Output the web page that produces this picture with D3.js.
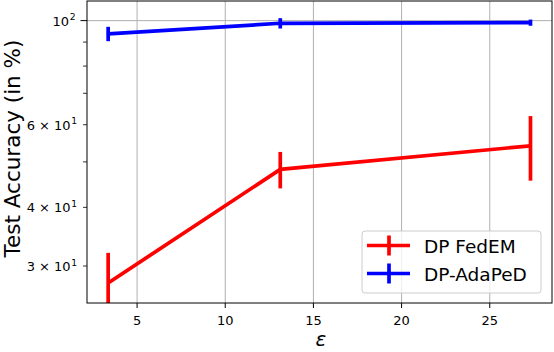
<!DOCTYPE html>
<html>
<head>
<meta charset="utf-8">
<script src="https://cdnjs.cloudflare.com/ajax/libs/d3/7.8.5/d3.min.js"></script>
<style>
  body { margin: 0; background: #fff; }
  text { font-family: "DejaVu Sans", sans-serif; }
</style>
</head>
<body>
<div id="container"></div>
<script>
// data
var epsilons = [3.36, 13.12, 27.31];
var fedemMean = [27.6, 48.2, 54.1];
var fedemErr = [4.4, 4.3, 8.5];
var adapedMean = [93.7, 98.7, 99.0];
var adapedErr = [3.3, 2.5, 1.5];
var seriesNames = ['DP FedEM', 'DP-AdaPeD'];
var seriesColors = ['#ff0000', '#0000ff'];
var xTicks = [5, 10, 15, 20, 25];
var yMajor = [30, 40, 60, 100];
var yMajorLabels = [['3 \u00d7 10', '1'], ['4 \u00d7 10', '1'], ['6 \u00d7 10', '1'], ['10', '2']];
var yMinor = [30, 40, 50, 60, 70, 80, 90];

var w = 554, h = 352;
var margin = {top: 1, right: 2, bottom: 49, left: 87};

var svg = d3.select('#container')
    .append('svg')
    .attr('width', w)
    .attr('height', h);

var x = d3.scaleLinear().domain([2.16, 28.53]).range([margin.left, w - margin.right]);
var y = d3.scaleLog().domain([25.02, 110.1]).range([h - margin.bottom, margin.top]);

svg.append('clipPath').attr('id', 'plotclip')
   .append('rect')
   .attr('x', margin.left).attr('y', margin.top)
   .attr('width', w - margin.right - margin.left)
   .attr('height', h - margin.bottom - margin.top);

// grid
var grid = svg.append('g');
grid.selectAll('.vg').data(xTicks).enter().append('line')
    .attr('x1', d => x(d)).attr('x2', d => x(d))
    .attr('y1', margin.top).attr('y2', h - margin.bottom)
    .attr('stroke', '#b0b0b0').attr('stroke-width', 1);
grid.append('line')
    .attr('x1', margin.left).attr('x2', w - margin.right)
    .attr('y1', y(100)).attr('y2', y(100))
    .attr('stroke', '#b0b0b0').attr('stroke-width', 1);

// series
var series = [
  {name: seriesNames[0], color: seriesColors[0], mean: fedemMean, err: fedemErr},
  {name: seriesNames[1], color: seriesColors[1], mean: adapedMean, err: adapedErr}
];
var line = d3.line().x(d => x(d[0])).y(d => y(d[1]));
var plot = svg.append('g').attr('clip-path', 'url(#plotclip)');
series.forEach(function(s) {
  var pts = epsilons.map((e, i) => [e, s.mean[i], s.err[i]]);
  plot.append('path')
      .datum(pts)
      .attr('d', line)
      .attr('fill', 'none')
      .attr('stroke', s.color)
      .attr('stroke-width', 3.7);
  plot.selectAll(null).data(pts).enter().append('line')
      .attr('x1', d => x(d[0])).attr('x2', d => x(d[0]))
      .attr('y1', d => y(Math.max(d[1] - d[2], 1)))
      .attr('y2', d => y(d[1] + d[2]))
      .attr('stroke', s.color)
      .attr('stroke-width', 3.7);
});

// axes frame
svg.append('rect')
   .attr('x', margin.left).attr('y', margin.top)
   .attr('width', w - margin.right - margin.left)
   .attr('height', h - margin.bottom - margin.top)
   .attr('fill', 'none').attr('stroke', '#000').attr('stroke-width', 1);

// x axis
var xAxis = svg.append('g').attr('transform', 'translate(0,' + (h - margin.bottom) + ')');
xAxis.selectAll('line').data(xTicks).enter().append('line')
     .attr('x1', d => x(d)).attr('x2', d => x(d))
     .attr('y1', 0).attr('y2', 5)
     .attr('stroke', '#000');
xAxis.selectAll('text').data(xTicks).enter().append('text')
     .attr('x', d => x(d)).attr('y', 21.5)
     .attr('text-anchor', 'middle')
     .attr('font-size', 13)
     .text(d => d);

// y axis
var yAxis = svg.append('g');
yAxis.selectAll('.minor').data(yMinor).enter().append('line')
     .attr('x1', margin.left - 4).attr('x2', margin.left)
     .attr('y1', d => y(d)).attr('y2', d => y(d))
     .attr('stroke', '#000').attr('stroke-width', 0.8);
yAxis.selectAll('.major').data([100]).enter().append('line')
     .attr('x1', margin.left - 6.5).attr('x2', margin.left)
     .attr('y1', d => y(d)).attr('y2', d => y(d))
     .attr('stroke', '#000');
var yl = yAxis.selectAll('.lab').data(yMajor).enter().append('text')
     .attr('x', d => d === 100 ? margin.left - 11.5 : margin.left - 10)
     .attr('y', d => y(d) + 5)
     .attr('text-anchor', 'end')
     .attr('font-size', 13);
yl.append('tspan').text((d, i) => yMajorLabels[i][0]);
yl.append('tspan').attr('dy', -5.5).attr('dx', 0.5).attr('font-size', 9.2).text((d, i) => yMajorLabels[i][1]);

// axis labels
svg.append('text')
   .attr('transform', 'translate(19.5,148.5) rotate(-90)')
   .attr('text-anchor', 'middle')
   .attr('font-size', 21.5)
   .text('Test Accuracy (in %)');
svg.append('text')
   .attr('x', 321)
   .attr('y', 346)
   .attr('text-anchor', 'middle')
   .attr('font-size', 20)
   .attr('font-style', 'italic')
   .text('\u03b5');

// legend
var lg = svg.append('g').attr('transform', 'translate(362,231)');
lg.append('rect')
  .attr('width', 179).attr('height', 62)
  .attr('rx', 3)
  .attr('fill', '#fff').attr('fill-opacity', 0.8)
  .attr('stroke', '#cccccc');
series.forEach(function(s, i) {
  var cy = 14.5 + i * 28;
  lg.append('line').attr('x1', 5).attr('x2', 48).attr('y1', cy).attr('y2', cy)
    .attr('stroke', s.color).attr('stroke-width', 3.7);
  lg.append('line').attr('x1', 27).attr('x2', 27).attr('y1', cy - 10).attr('y2', cy + 10)
    .attr('stroke', s.color).attr('stroke-width', 3.7);
  lg.append('text').attr('x', 62).attr('y', cy + 7.5)
    .attr('font-size', 18.5)
    .text(s.name);
});
</script>
</body>
</html>
